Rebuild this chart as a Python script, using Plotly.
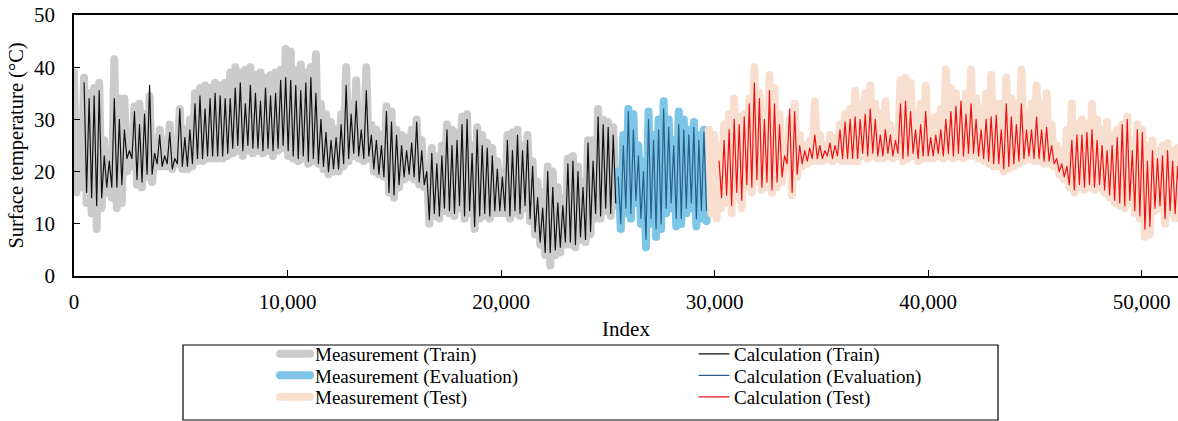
import plotly.graph_objects as go

# ---- data (alternating daily highs / lows) ----
STEP = 118          # index units between consecutive samples
CALC_LAG = 4        # calculation starts a few samples after the measurement

train_meas = [
    39,16, 27,17,
    38,14, 35,12, 36,9, 37,13,
    26,16, 24,15,
    41.5,13, 34,14,
    34,20, 27,21,
    32.5,17.5, 33,17, 31,19, 34.5,18,
    25,21, 28,21, 26,21, 29,20.5, 24,21.5,
    32,20.5, 28,20.5, 30,21,
    35,22, 36,22, 36.5,22.5, 36,22.5, 37,22.5, 36.5,22.5, 37,23,
    39,23.5, 40,24, 39,23, 39.5,24, 40,23.5, 38.5,24, 39,23.5, 38,24, 38.5,23, 39,24, 39.5,24.5,
    43.5,23, 43,22.5, 39.5,22, 40.5,22.5, 39,21.5, 40,22, 42.5,21.5,
    33,20.5, 31,19.5, 29.5,20,
    28,20, 31,21, 40,22, 33,23, 37.5,22.5, 30,22, 40,22.5,
    29,20, 28,19.5, 27,19,
    32.5,16, 31.5,15, 28,17,
    27,18.5, 26.5,19, 28,18.5, 30,17.5, 26,17,
    21,10, 24.5,11.5, 23,11, 25,12.5,
    29,12, 28,11.5, 27.5,13, 30.5,11, 31,12, 25,9,
    28.5,11, 27,11.5, 25.5,11, 24.5,12, 22,12,
    20,12, 27,11, 27.5,12, 28,11.5, 25,13,
    27,10.5, 22,8, 18,6, 16,4,
    21,2, 20,4, 17,4.5, 15,6,
    22.5,6, 23,5.5, 21,7, 18,6.5, 26,8,
    26,11, 32,11, 30,12.5, 29.5,11.5, 28.5,13.5,
]
train_calc = [
    37,16, 34,15, 34.5,13.5, 35.5,15,
    23,17, 22,17,
    34,17, 30,17.5,
    28,22.5, 24,22.5,
    31.5,18.5, 29,18, 31,19.5, 36.5,19.5,
    23.5,21.5, 27,21, 23,21.5, 27.5,20.5, 22.5,21.5,
    32,21, 26.5,21, 28,21.5,
    33,22.5, 34.5,22.5, 32,23, 34,23, 35,23, 34.5,23, 34,23.5,
    34,24.5, 36,25, 37,24, 33,25, 36.5,24.5, 35,24.5, 33.5,24, 36,24.5, 34.5,24, 35,24.5, 37.5,25,
    38,24, 37.5,23, 36.5,22.5, 35.5,23, 37,22, 38,22.5, 35,21.5,
    30,21, 27.5,20, 26,20.5,
    26.5,20.5, 29,21.5, 36.5,22.5, 31,23.5, 33.5,23, 28,22.5, 35.5,23,
    27,20.5, 26,19.5, 25,19,
    31.5,16, 29.5,15.5, 27,17.5,
    25,19, 24,19.5, 25.5,19, 29.5,18, 24,17.5,
    20,10.8, 23.5,12, 21.5,11.5, 23,13,
    28,12.5, 25,12, 26,13.5, 29,11.5, 30,12.5, 23.5,9.5,
    28,11.5, 25,12, 24.5,11.5, 23,12.5, 20.5,12.5,
    19,12.5, 26,11.5, 24,12.5, 27,12, 24,13.5,
    26,11, 21,8.5, 15,6.5, 13,4.5,
    20,4.5, 17,5, 14,5.5, 13.5,6.5,
    21.5,6.5, 22,6, 20,7.5, 17,7, 25.5,8.5,
    22,12, 30.5,11.5, 29,13, 28.5,12, 27,14,
]
eval_meas = [
    20,9, 27,12, 32,11, 31,14, 25,10, 22,5.5, 31.5,10, 27,7.5, 30,9,
    33.5,12, 30,13, 26,9.5, 31.5,10, 30,12, 28,13, 29.5,9.5, 27,11, 28,10.5,
]
eval_calc = [
    19,10, 25,13, 31.5,12, 28,14.5, 23,11, 20,7, 30,11, 26,9, 28,10,
    32,13, 28.5,14, 25,11, 29,11, 28,13, 27,14, 28.5,11, 26,12.5, 27.5,12.5,
]
test_meas = [
    28,12, 27,11, 25,13, 29,14, 31,12, 34,15, 30.5,13, 31,17, 34,16, 40,18,
    35,16.5, 32,17, 38.5,16, 36,17, 31,18, 24,21, 30,15.5, 33,19, 27,21, 25,21.5,
    26,22, 33.5,22, 27,22, 25,22.5, 27,22, 26.5,22.5, 29,22, 31,22, 32,22, 35.5,22,
    33,23, 35,22.5, 36.5,23, 33,22.5, 31,22.5, 33.5,23, 29,22.5, 28,23, 37.5,22, 38,22.5,
    37,23, 31,22, 33,22.5, 36.5,22.5, 30,22.5, 30.5,23, 32,22.5, 39.5,23, 36,22.5, 35,23,
    33,22.5, 35,23, 39.5,23, 34,22.5, 32,22, 35,21.5, 38.5,21, 33,21, 33,20, 38,20.5,
    34,21, 33,21.5, 39.5,22, 31,22.5, 33,22, 36.5,22, 33,21.5, 35,21.5, 29,21, 25,19.5,
    24,18.5, 28,17, 33,16, 29,17, 30,16.5, 29,17, 33,16.5, 30,17, 28,16, 29.5,15,
    27,14, 28,13.5, 29,13, 30.5,14, 26,12, 29,11, 28,7.5, 25,8, 26,12.5, 24,13,
    25,10, 25.5,12, 24,11, 24.5,12,
]
test_calc = [
    22,15, 26,15.5, 28,13.5, 30,16, 29,14.5, 30.5,17.5, 33,17, 37,18.5,
    34,17, 30,18, 35.5,16.5, 33,18, 29,19, 23,21.5, 32,16, 31.5,19.5, 25,21.5, 24,22,
    24.5,22.5, 27,22.5, 25,22.5, 24,23, 25.5,22.5, 25,23, 28,22.5, 29.5,22.5, 30,22.5, 30.5,22.5,
    30,23.5, 31,23, 32,23.5, 30,23, 27,23, 28,23.5, 27,23, 26,23.5, 33,22.5, 33.5,23,
    31.5,23.5, 28,22.5, 29,23, 31.5,23, 26.5,23, 27,23.5, 28,23, 30,23.5, 31.5,23, 32.5,23.5,
    33.5,23, 31,23.5, 33,23.5, 30,23, 28,22.5, 30,22, 30.5,21.5, 30.8,21.5, 28,20.5, 33,21,
    30.5,21.5, 29,22, 33,22.5, 28,23, 28,22.5, 30.5,22.5, 28,22, 28.5,22, 25,21.5, 22.5,20,
    21.5,19, 21,17.5, 26,16.5, 27,17.5, 27,17, 27.5,17.5, 28,17, 26,17.5, 25,16.5, 24,15.5,
    25,14.5, 26.5,14, 29,13.5, 30,14.5, 24,12.5, 28,11.5, 27.5,9, 22,9.5, 24,13, 22.5,13.5,
    23,11, 24,12.5, 22,12, 21,13,
]

y_ticks = [0, 10, 20, 30, 40, 50]
x_ticks = [0, 10000, 20000, 30000, 40000, 50000]
x_max = 51700

# ---- index positions ----
n_tr, n_ev = len(train_meas), len(eval_meas)
train_x = [i * STEP for i in range(n_tr)]
eval_x = [(n_tr + i) * STEP for i in range(n_ev)]
test_x = [(n_tr + n_ev + i) * STEP for i in range(len(test_meas))]
train_cx = train_x[CALC_LAG:CALC_LAG + len(train_calc)]
eval_cx = eval_x[:len(eval_calc)]
test_cx = test_x[CALC_LAG:CALC_LAG + len(test_calc)]

FONT = "Liberation Serif, Times New Roman, serif"
fig = go.Figure()
def meas(x, y, name, color, leg):
    fig.add_trace(go.Scatter(x=x, y=y, mode="lines", name=name, legend=leg,
                             line=dict(color=color, width=8)))
def calc(x, y, name, color, leg):
    fig.add_trace(go.Scatter(x=x, y=y, mode="lines", name=name, legend=leg,
                             line=dict(color=color, width=1.2)))

meas(train_x, train_meas, "Measurement (Train)", "#CBCBCB", "legend")
meas(eval_x, eval_meas, "Measurement (Evaluation)", "#7DC6E7", "legend2")
meas(test_x, test_meas, "Measurement (Test)", "#F8DECF", "legend3")
calc(train_cx, train_calc, "Calculation (Train)", "#111111", "legend")
calc(eval_cx, eval_calc, "Calculation (Evaluation)", "#2A5F88", "legend2")
calc(test_cx, test_calc, "Calculation (Test)", "#F01010", "legend3")

# layout geometry (pixels)
W, H = 1178, 421
L, R, T, B = 74, 1178, 15, 276
pw, ph = R - L, B - T
px = lambda v: (v - L) / pw
py = lambda v: (B - v) / ph

fig.add_shape(type="rect", xref="paper", yref="paper",
              x0=px(183), x1=px(998), y0=py(420), y1=py(345),
              line=dict(color="black", width=1.2), fillcolor="rgba(0,0,0,0)")

def leg(row_y):
    return dict(orientation="h", x=px(275), y=py(row_y),
                xanchor="left", yanchor="middle",
                entrywidth=374, entrywidthmode="pixels", traceorder="normal",
                font=dict(family=FONT, size=19, color="black"),
                bgcolor="rgba(0,0,0,0)", borderwidth=0)

fig.update_layout(
    width=W, height=H,
    margin=dict(l=L, r=W - R, t=T, b=H - B, autoexpand=False),
    paper_bgcolor="white", plot_bgcolor="white",
    font=dict(family=FONT, size=21, color="black"),
    showlegend=True,
    legend=leg(354), legend2=leg(375.5), legend3=leg(397),
)
fig.update_xaxes(range=[0, x_max], tickvals=x_ticks, tickformat=",d",
                 showgrid=False, zeroline=False, automargin=False,
                 showline=True, linecolor="black", linewidth=1.5, mirror=True,
                 ticks="inside", ticklen=6, tickcolor="black",
                 tickfont=dict(size=21), ticklabelstandoff=6,
                 title=dict(text="Index", standoff=8, font=dict(size=21)))
fig.update_yaxes(range=[0, 50], tickvals=y_ticks,
                 showgrid=False, zeroline=False, automargin=False,
                 showline=True, linecolor="black", linewidth=1.5,
                 ticks="inside", ticklen=6, tickcolor="black",
                 tickfont=dict(size=21), ticklabelstandoff=13,
                 title=dict(text="Surface temperature (°C)", standoff=5,
                            font=dict(size=20.5)))

post = (
    "document.body.style.margin='0';"
    "document.body.style.overflow='hidden';"
    "var s=document.createElement('style');"
    "s.textContent='path.js-line{stroke-linejoin:round!important;"
    "stroke-linecap:round!important;}';"
    "document.head.appendChild(s);"
)
fig.write_html("out.html", config={"displayModeBar": False}, post_script=post)
